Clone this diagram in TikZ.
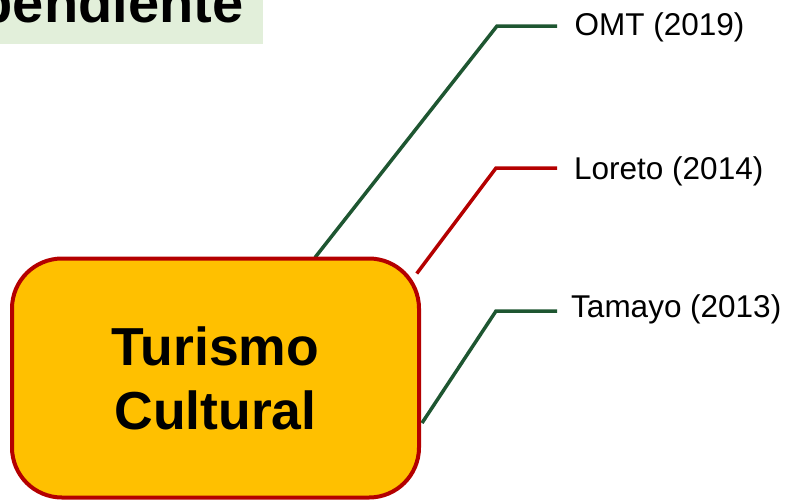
\documentclass[tikz,border=0pt]{standalone}
\usepackage{fontspec}
\setmainfont{Liberation Sans}
\usepackage{tikz}
\usetikzlibrary{positioning,backgrounds}
\definecolor{verdeosc}{HTML}{1E5631}
\definecolor{rojo}{HTML}{B40000}
\definecolor{naranja}{HTML}{FFC000}
\definecolor{verdeclaro}{HTML}{E2EFDA}

\begin{document}
\begin{tikzpicture}[x=1pt,y=-1pt,
    caja/.style={draw=rojo,fill=naranja,line width=4pt,rounded corners=50pt,
      minimum width=407pt,minimum height=239pt,align=center,
      font=\fontsize{53.5}{64}\selectfont\bfseries},
    autor/.style={anchor=base west,inner sep=0pt,font=\fontsize{31.5}{36}\selectfont},
    rama/.style={line width=3.5pt}]
  \useasboundingbox (0,0) rectangle (786,501);
  \clip (0,0) rectangle (786,501);

  % cabecera recortada
  \node[fill=verdeclaro,minimum width=263pt,minimum height=44pt,inner sep=0pt,
    anchor=north west] (cabecera) at (0,0) {};
  \node[anchor=base west,inner sep=0pt,font=\fontsize{56}{60}\selectfont\bfseries]
    (pendiente) at (-21.5,22) {pendiente};

  \node[caja] (turismo) at (215.5,378) {Turismo\\Cultural};

  \node[autor] (omt) at (574.5,35) {OMT (2019)};
  \node[autor] (loreto) at (574,179) {Loreto (2014)};
  \node[autor] (tamayo) at (571,317) {Tamayo (2013)};

  \coordinate (omtfin) at (557,26);
  \coordinate (omtcodo) at (497,26);
  \coordinate (loretofin) at (557,168);
  \coordinate (loretocodo) at (496,168);
  \coordinate (tamayofin) at (557,311);
  \coordinate (tamayocodo) at (496,311);

  \begin{pgfonlayer}{background}
    \draw[rama,verdeosc] (omtfin) -- (omtcodo) -- ([xshift=99.5pt,yshift=-1pt]turismo.north);
    \draw[rama,rojo] (loretofin) -- (loretocodo)
      -- ([xshift=-4.25pt,yshift=-17pt]turismo.north east);
    \draw[rama,verdeosc] (tamayofin) -- (tamayocodo)
      -- ([xshift=1pt,yshift=-45pt]turismo.east);
  \end{pgfonlayer}
\end{tikzpicture}
\end{document}
